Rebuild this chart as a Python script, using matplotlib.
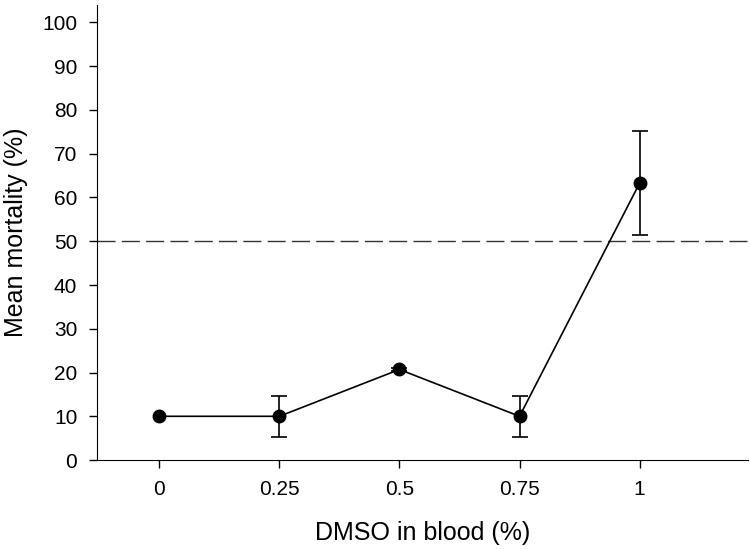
import matplotlib.pyplot as plt

plt.rcParams['font.family'] = ['Liberation Sans', 'DejaVu Sans']

dmso = [0, 0.25, 0.5, 0.75, 1]
mortality = [10, 10, 20.7, 10, 63.3]
sem = [0, 4.7, 0.4, 4.7, 11.8]
xtick_labels = ['0', '0.25', '0.5', '0.75', '1']
threshold = 50

fig = plt.figure(figsize=(7.5, 5.49), dpi=100)
ax = fig.add_axes([0.129, 0.162, 0.868, 0.829])

ax.axhline(threshold, color='#333333', lw=1.0, dashes=(13, 4.5), zorder=1)
# line + markers
ax.plot(dmso, mortality, 'o-', color='black', ms=9, lw=1.2, zorder=3)
# error bars only where there is one to show
ex = [x for x, e in zip(dmso, sem) if e > 0]
ey = [y for y, e in zip(mortality, sem) if e > 0]
ee = [e for e in sem if e > 0]
ax.errorbar(ex, ey, yerr=ee, fmt='none', ecolor='black',
            elinewidth=1.2, capsize=6, capthick=1.2, zorder=2)

ax.set_xlim(-0.13, 1.225)
ax.set_ylim(0, 104)
ax.set_xticks(dmso)
ax.set_xticklabels(xtick_labels)
ax.set_yticks(range(0, 101, 10))
ax.spines['top'].set_visible(False)
ax.spines['right'].set_visible(False)
ax.tick_params(direction='out', length=6, width=1, labelsize=15, pad=8)
ax.set_xlabel('DMSO in blood (%)', fontsize=18, labelpad=16)
ax.set_ylabel('Mean mortality (%)', fontsize=18, labelpad=10)

fig.savefig('out.png', dpi=100)
